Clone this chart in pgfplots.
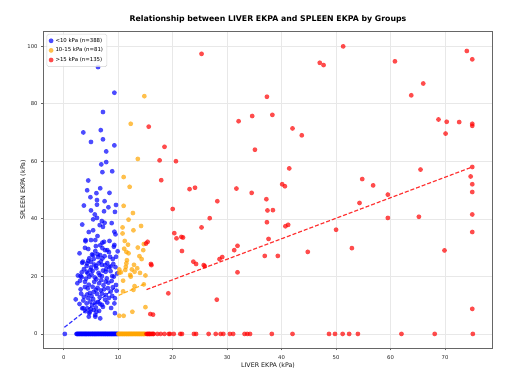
\documentclass[border=0pt]{standalone}
\usepackage{pgfplots}
\pgfplotsset{compat=1.18}
\usepackage{fontspec}
\setmainfont{DejaVu Sans}
\setsansfont{DejaVu Sans}
\definecolor{cblue}{RGB}{0,0,255}
\definecolor{corange}{RGB}{255,165,0}
\definecolor{cred}{RGB}{255,0,0}
\begin{document}
\begin{tikzpicture}
\useasboundingbox (-43.3pt,-38.7pt) rectangle (472.7pt,348.3pt);
\begin{axis}[
  at={(0pt,0pt)}, anchor=south west,
  scale only axis, width=449.4pt, height=316.6pt,
  xmin=-3.75, xmax=78.75, ymin=-5, ymax=105,
  xtick={0,10,...,70}, ytick={0,20,...,100},
  grid=major, major grid style={draw=black!9, line width=0.5pt},
  axis line style={draw=black!60, line width=0.9pt},
  tick style={draw=black!60, line width=0.6pt},
  tick align=outside, major tick length=2.2pt,
  xtick pos=lower, ytick pos=left,
  ticklabel style={font=\fontsize{5.3}{6}\selectfont, text=black!85},
  xticklabel style={yshift=-1.5pt},
  /pgf/number format/assume math mode=true,
  xlabel={LIVER EKPA (kPa)}, ylabel={SPLEEN EKPA (kPa)},
  label style={font=\fontsize{6.3}{7.5}\selectfont, text=black!90},
  xlabel style={at={(axis description cs:0.5,-0.06)}, anchor=base},
  ylabel style={at={(axis description cs:-0.0407,0.5)}, anchor=base, rotate=0},
  title={Relationship between LIVER EKPA and SPLEEN EKPA by Groups},
  title style={font=\bfseries\fontsize{7.8}{9}\selectfont, anchor=base, yshift=4.4pt},
  legend style={at={(axis description cs:0,1)}, anchor=north west, xshift=3.4pt, yshift=-2.3pt,
    font=\fontsize{5.4}{6}\selectfont, draw=black!18, rounded corners=1.5pt, fill=white,
    fill opacity=0.85, text opacity=1, inner sep=1.8pt},
  legend cell align=left,
  legend image code/.code={\draw[mark repeat=2,mark phase=2,#1] plot coordinates {(0pt,0pt)(5pt,0pt)(10pt,0pt)};},
  every axis plot/.append style={only marks, mark=*, mark size=2.4pt},
]
% <10 kPa
\addplot[color=cblue, mark options={draw opacity=0, fill=cblue, fill opacity=0.7}] coordinates {
(6.3,92.7)(9.3,83.8)(7.2,77.1)(3.6,70.0)(6.8,70.8)(5.0,66.7)(7.2,67.6)(7.8,63.4)(9.3,65.5)
(7.8,59.7)(6.9,58.9)(7.1,56.2)(8.9,56.5)(4.5,53.3)(6.7,50.6)(4.3,49.9)(6.0,48.9)(6.1,46.5)
(7.5,46.1)(6.1,44.9)(5.0,42.9)(7.4,42.6)(9.4,42.4)(9.6,44.8)(6.1,40.3)(5.4,39.8)(7.0,39.2)
(7.5,38.6)(6.6,37.8)(7.2,37.2)(5.4,36.0)(9.3,35.5)(9.5,34.6)(4.0,32.6)(5.0,32.6)(5.8,32.6)
(7.4,32.0)(6.7,30.8)(3.9,29.9)(9.2,30.3)(8.0,29.1)(5.2,27.6)(6.7,27.4)(8.5,26.8)(5.5,26.0)
(9.0,26.0)(3.5,25.1)(4.3,24.5)(6.4,24.5)(4.9,22.2)(7.8,22.5)
(4.0,32.2)(5.9,30.5)(7.1,31.7)(9.3,30.9)(7.6,29.1)(5.4,27.4)(6.2,27.7)(3.4,24.7)(4.5,25.4)
(7.1,26.2)(9.1,24.3)(5.0,23.1)(5.9,23.6)(7.6,23.9)(8.3,23.3)(4.2,21.6)(5.3,21.9)(6.4,21.2)
(7.7,21.6)(3.3,19.7)(4.7,19.9)(7.0,20.1)(8.9,20.1)(2.5,17.6)(3.9,18.1)(5.6,18.1)(6.5,17.6)
(8.2,17.8)(9.6,17.0)(3.1,15.5)(4.4,15.8)(5.9,15.3)(7.4,15.5)(8.6,14.7)(2.2,12.0)(3.7,12.9)
(5.1,13.2)(6.6,12.7)(7.7,13.5)(4.2,10.6)(5.8,10.8)(7.0,10.1)(9.3,10.6)(3.4,8.9)(5.0,8.6)
(6.0,7.7)(4.7,7.2)
(5.5,8.3)(5.8,6.0)(6.7,5.4)(4.8,7.7)(9.4,7.2)(4.3,8.9)(3.1,20.1)(3.6,8.9)(4.6,6.0)(5.8,6.6)
(4.1,19.2)(4.6,17.1)(5.3,16.4)(5.7,19.6)(6.2,16.0)(6.9,18.7)(7.3,16.9)(7.9,19.3)(8.6,21.8)
(8.8,18.4)(9.0,16.2)(4.4,21.0)(5.1,20.6)(6.0,22.8)(6.6,20.4)(7.2,22.0)(8.0,24.6)(3.7,22.5)
(4.7,26.3)(5.6,24.1)(6.8,25.2)(7.5,27.0)(8.3,28.4)(9.5,23.2)(3.2,14.0)(3.9,16.3)(4.8,14.2)
(5.4,12.1)(6.1,13.9)(6.8,15.1)(7.6,11.9)(8.1,15.9)(8.9,13.2)(9.4,12.4)(2.9,10.4)(3.6,11.6)
(4.5,12.4)(5.2,10.0)(6.3,11.1)(7.2,9.4)(8.0,10.9)(8.7,9.0)(5.9,9.2)(6.5,8.0)(4.0,7.9)
(3.0,18.5)(2.6,20.3)(3.3,21.4)(4.2,23.6)(5.0,25.0)(6.3,26.7)(7.0,24.0)(8.6,23.4)(9.2,19.9)
(9.7,15.0)(9.8,21.0)(9.6,26.8)(5.8,28.8)(4.5,29.5)(7.1,29.8)(8.4,32.3)(6.2,34.0)(4.6,35.4)
(8.8,38.5)(3.4,38.0)(5.7,41.5)(8.2,44.0)(3.7,44.6)(4.9,47.5)(8.4,49.0)(2.9,28.0)(9.9,28.7)
(6.0,19.0)(7.7,18.2)(5.5,14.6)(4.3,13.7)(7.0,14.0)(8.3,12.5)(6.6,10.5)(4.9,11.2)
(0.2,0)(2.35,0)(2.46,0)(2.58,0)(2.71,0)(2.82,0)(2.93,0)(3.06,0)(3.18,0)(3.3,0)(3.41,0)
(3.53,0)(3.66,0)(3.78,0)(3.9,0)(4.02,0)(4.13,0)(4.25,0)(4.38,0)(4.5,0)(4.61,0)(4.73,0)
(4.86,0)(4.98,0)(5.1,0)(5.22,0)(5.33,0)(5.45,0)(5.58,0)(5.7,0)(5.81,0)(5.93,0)(6.06,0)
(6.18,0)(6.3,0)(6.41,0)(6.53,0)(6.66,0)(6.78,0)(6.9,0)(7.01,0)(7.13,0)(7.26,0)(7.38,0)
(7.5,0)(7.61,0)(7.73,0)(7.86,0)(7.98,0)(8.1,0)(8.21,0)(8.33,0)(8.46,0)(8.58,0)(8.7,0)
(8.81,0)(8.93,0)(9.06,0)(9.18,0)(9.3,0)(9.41,0)(9.53,0)(9.66,0)(9.78,0)(9.9,0)
};
\addlegendentry{<10 kPa (n=388)}
% 10-15 kPa
\addplot[color=corange, mark options={draw opacity=0, fill=corange, fill opacity=0.7}] coordinates {
(14.8,82.6)(12.3,73.0)(13.6,60.8)(11.0,54.5)(12.1,51.1)(11.0,44.5)(12.7,42.0)(11.9,39.7)
(14.2,37.5)(10.8,37.0)(12.8,36.0)(10.8,34.9)(11.2,32.3)(14.7,31.2)(13.6,30.0)(11.1,29.6)
(14.6,29.1)(11.5,28.5)(11.9,28.0)(13.9,27.0)(11.6,25.6)(11.5,24.5)(11.4,23.3)(10.2,22.4)
(11.3,22.2)(12.5,22.4)(13.5,22.8)(13.0,21.6)(14.0,21.2)(10.2,21.2)(12.3,19.9)(15.0,20.3)
(10.9,18.5)(13.0,16.6)(10.9,14.8)(12.8,15.3)(15.0,9.3)(12.6,7.7)(10.2,6.3)(11.0,6.3)
(10.5,21.4)(12.2,20.5)(14.7,17.2)(12.9,24.0)(14.3,26.0)(11.8,31.0)
(10.02,0)(10.14,0)(10.26,0)(10.38,0)(10.5,0)(10.62,0)(10.74,0)(10.86,0)(10.98,0)(11.1,0)
(11.22,0)(11.34,0)(11.46,0)(11.58,0)(11.7,0)(11.82,0)(11.94,0)(12.06,0)(12.18,0)(12.3,0)
(12.42,0)(12.54,0)(12.66,0)(12.78,0)(12.9,0)(13.02,0)(13.14,0)(13.26,0)(13.38,0)(13.5,0)
(13.62,0)(13.74,0)(13.86,0)(13.98,0)(14.1,0)(14.22,0)(14.34,0)(14.46,0)(14.58,0)(14.7,0)
(14.82,0)(14.94,0)
};
\addlegendentry{10-15 kPa (n=81)}
% >15 kPa
\addplot[color=cred, mark options={draw opacity=0, fill=cred, fill opacity=0.7}] coordinates {
(25.3,97.3)(47.0,94.2)(47.7,93.4)(51.3,99.9)(60.8,94.7)(74.0,98.3)(75.0,95.4)(66.0,87.0)
(63.8,82.9)(37.3,82.4)(15.6,72.0)(32.1,73.9)(34.6,75.7)(38.3,76.1)(42.0,71.4)(43.7,69.0)
(68.8,74.5)(70.3,73.7)(72.6,73.6)(75.0,73.0)(75.0,72.3)(70.1,69.6)(18.5,65.0)(35.1,64.0)
(17.6,60.3)(20.6,60.0)(17.9,53.4)(41.4,57.5)(65.5,57.1)(23.1,50.3)(24.1,50.8)(31.7,50.5)
(40.1,52.0)(40.6,51.3)(54.8,53.8)(56.8,51.6)(75.0,58.0)(74.7,54.7)(75.0,52.0)(75.0,49.3)
(59.5,48.4)(34.5,49.0)(28.2,46.1)(37.2,46.8)(37.4,42.9)(38.4,43.0)(20.0,43.4)(54.3,45.5)
(26.8,40.2)(37.3,38.8)(40.7,37.4)(41.2,37.9)(25.3,37.0)(59.5,40.3)(65.2,40.7)(75.0,41.5)
(50.0,36.2)(75.0,35.4)(20.3,35.0)(20.7,33.2)(21.6,33.7)(21.9,33.5)(15.4,32.0)(15.1,31.4)
(37.6,33.0)(31.9,30.6)(31.3,29.1)(21.7,28.8)(36.9,27.1)(39.3,27.1)(44.8,28.5)(52.9,29.8)
(69.9,29.0)(29.1,26.7)(28.6,26.0)(16.0,24.3)(16.1,23.9)(23.8,25.1)(24.3,24.3)(25.7,23.9)
(25.9,23.5)(31.9,21.4)(19.2,14.1)(28.1,11.9)(15.9,6.9)(16.4,6.7)(75.0,8.7)
(15.2,0)(15.4,0)(15.5,0)(15.7,0)(15.8,0)(16.0,0)(16.2,0)(16.4,0)(16.5,0)(17.2,0)(17.8,0)
(18.5,0)(19.3,0)(19.5,0)(20.2,0)(21.4,0)(21.7,0)(23.9,0)(24.3,0)(26.6,0)(27.9,0)(28.8,0)
(29.3,0)(30.5,0)(31.1,0)(33.2,0)(33.7,0)(34.2,0)(38.2,0)(42.0,0)(48.7,0)(49.8,0)(51.2,0)
(52.4,0)(54.0,0)(62.0,0)(68.1,0)(75.1,0)
};
\addlegendentry{>15 kPa (n=135)}
% regression lines
\addplot[forget plot, no marks, sharp plot, draw=cblue, draw opacity=0.8, line width=1.2pt, dash pattern=on 4pt off 2pt] coordinates {(0.13,2.3)(9.7,16.4)};
\addplot[forget plot, no marks, sharp plot, draw=corange, draw opacity=0.8, line width=1.2pt, dash pattern=on 4pt off 2pt] coordinates {(10.1,13.4)(14.9,17.4)};
\addplot[forget plot, no marks, sharp plot, draw=cred, draw opacity=0.8, line width=1.2pt, dash pattern=on 4pt off 2pt] coordinates {(15.2,15.4)(75.0,58.0)};
\end{axis}
\end{tikzpicture}
\end{document}
